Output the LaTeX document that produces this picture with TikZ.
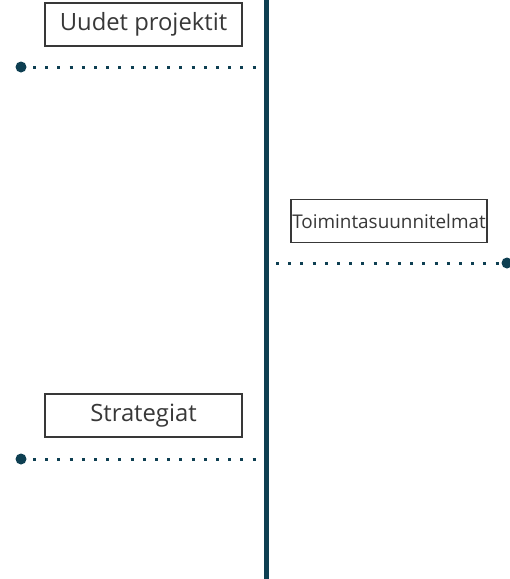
\documentclass[tikz,border=0pt]{standalone}
\usepackage{fontspec}
\setmainfont{Open Sans}
\usetikzlibrary{calc}
\definecolor{teal}{HTML}{0E3F52}
\definecolor{txt}{HTML}{383838}
\begin{document}
\begin{tikzpicture}[x=1pt,y=-1pt,
  lbl/.style={draw=txt,line width=1.4pt,text=txt,minimum width=197pt,minimum height=43pt,inner sep=0pt,font=\fontsize{23.8}{26}\selectfont},
  dotline/.style={teal,line width=3pt,dash pattern=on 3pt off 9.2pt},
  enddot/.style={circle,fill=teal,inner sep=0pt,minimum size=11pt}]
\useasboundingbox (0,0) rectangle (510,579);
\fill[white] (0,0) rectangle (510,579);
\fill[teal] (263.5,0) rectangle (268.5,579);
\node[lbl] (b1) at (143.5,24.5) {Uudet projektit};
\node[lbl,minimum width=196pt,font=\fontsize{18.9}{21}\selectfont] (b2) at (389,221) {Toimintasuunnitelmat};
\node[lbl] (b3) at (143.5,415.5) {Strategiat};
\node[enddot] (d1) at (21,67) {};
\coordinate (e1) at (258,67);
\draw[dotline] ($(d1.center)+(12,0)$) -- (e1);
\node[enddot] (d3) at (21,459) {};
\coordinate (e3) at (258,459);
\draw[dotline] ($(d3.center)+(12,0)$) -- (e3);
\node[enddot] (d2) at (507,263) {};
\coordinate (e2) at (276,263);
\draw[dotline] (e2) -- ($(d2.center)+(-5,0)$);
\end{tikzpicture}
\end{document}
